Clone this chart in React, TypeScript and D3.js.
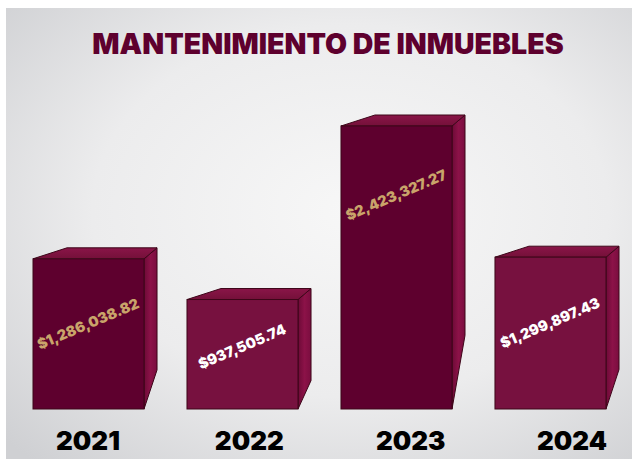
import React from 'react';
import * as d3 from 'd3';

const years = ['2021', '2022', '2023', '2024'];
const amounts = [1286038.82, 937505.74, 2423327.27, 1299897.43];
const labelColors = ['#c9a46a', '#ffffff', '#c9a46a', '#ffffff'];
const frontColors = ['#5e002e', '#77113f', '#5e002e', '#77113f'];

const W = 632;
const H = 459;

const App = () => {
  const x = d3.scaleBand<string>().domain(years).range([33, 606]).paddingInner(0.279).paddingOuter(0);
  const y = d3.scaleLinear().domain([0, d3.max(amounts) as number]).range([409, 126]);
  const yearX = d3.scalePoint<string>().domain(years).range([88, 572]);
  const fmt = d3.format('$,.2f');

  const dxL = 34, dxR = 13, dy = -11;
  const font = "'Inter', 'Open Sans', 'DejaVu Sans', sans-serif";

  return (
    <svg width={W} height={H} style={{ position: 'absolute', left: 0, top: 0 }}>
      <defs>
        <radialGradient id="bg" cx="0.55" cy="0.45" r="0.75">
          <stop offset="0" stopColor="#f7f7f7" />
          <stop offset="0.55" stopColor="#ececed" />
          <stop offset="1" stopColor="#cfd0d3" />
        </radialGradient>
        <linearGradient id="side" x1="0" x2="1" y1="0" y2="0">
          <stop offset="0" stopColor="#6d0a37" />
          <stop offset="0.5" stopColor="#8c1248" />
          <stop offset="1" stopColor="#7a0d3f" />
        </linearGradient>
        <linearGradient id="top" x1="0" x2="0" y1="0" y2="1">
          <stop offset="0" stopColor="#8a1548" />
          <stop offset="1" stopColor="#741039" />
        </linearGradient>
      </defs>
      <rect x={0} y={0} width={W} height={H} fill="#ffffff" />
      <rect x={6} y={8} width={W - 6} height={H - 8} fill="url(#bg)" />
      <text x={328} y={54} textAnchor="middle" fontFamily={font} fontWeight={900} fontSize={28.5}
        fill="#5e002e">MANTENIMIENTO DE INMUEBLES</text>
      {years.map((yr, i) => {
        const x0 = x(yr) as number;
        const x1 = x0 + x.bandwidth();
        const yt = y(amounts[i]);
        const yb = y(0);
        const h = yb - yt;
        const slant = h * 0.26;
        const top = `M${x0},${yt} L${x0 + dxL},${yt + dy} L${x1 + dxR},${yt + dy} L${x1},${yt} Z`;
        const side = `M${x1},${yt} L${x1 + dxR},${yt + dy} L${x1 + dxR},${yb - slant} L${x1},${yb} Z`;
        const cx = (x0 + x1) / 2;
        const cy = yt + Math.min(h * 0.44, 70);
        return (
          <g key={yr}>
            <path d={side} fill="url(#side)" stroke="#3d0619" strokeWidth={1} strokeLinejoin="round" />
            <path d={top} fill="url(#top)" stroke="#3d0619" strokeWidth={1} strokeLinejoin="round" />
            <rect x={x0} y={yt} width={x1 - x0} height={h} fill={frontColors[i]} stroke="#3d0619" strokeWidth={1} />
            <text x={cx} y={cy} transform={`rotate(-23 ${cx} ${cy})`} textAnchor="middle" dominantBaseline="middle"
              fontFamily={font} fontWeight={900} fontSize={14.5} fill={labelColors[i]}>{fmt(amounts[i])}</text>
            <text x={yearX(yr)} y={450} textAnchor="middle" fontFamily={font} fontWeight={900} fontSize={26}
              fill="#000000">{yr}</text>
          </g>
        );
      })}
    </svg>
  );
};

export default App;
